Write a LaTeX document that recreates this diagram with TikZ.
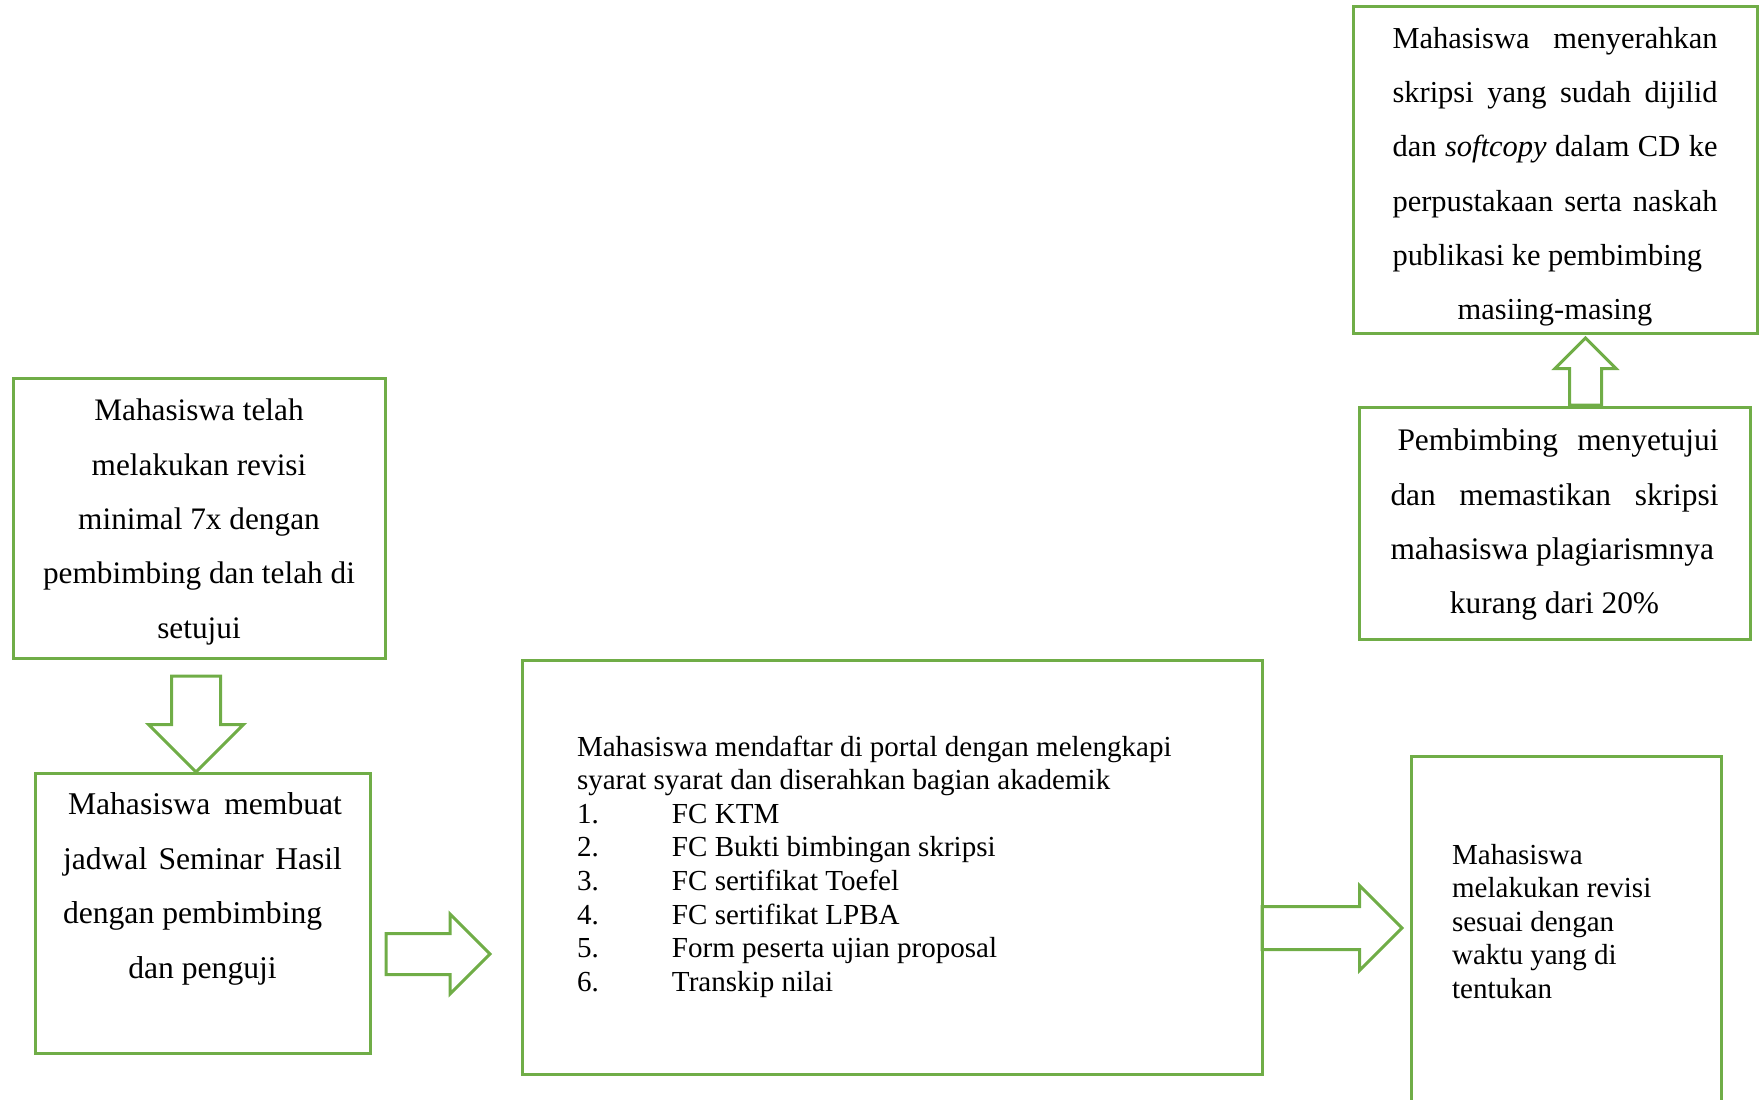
\documentclass[tikz,border=0pt]{standalone}
\usepackage{fontspec}
\setmainfont{Liberation Serif}
\usetikzlibrary{shapes.arrows}
\definecolor{boxgreen}{RGB}{112,173,71}
\newlength{\px}
\setlength{\px}{0.15mm}
% text block inside a box: width, height, top gap, text (all in px)
\newcommand{\boxtext}[4]{\begin{minipage}[c][#2\px][t]{#1\px}\vspace*{#3\px}#4\end{minipage}}

\begin{document}
\begin{tikzpicture}
  [x=0.15mm,y=-0.15mm,
   box/.style={draw=boxgreen,line width=0.45mm,rectangle,inner sep=0pt,outer sep=0pt},
   big/.style={font=\fontsize{#1}{23.2}\selectfont},big/.default=13,
   small/.style={font=\fontsize{12.4}{14.3}\selectfont},
   blockarrow/.style={single arrow,draw=boxgreen,line width=0.45mm,inner xsep=0pt,outer sep=0pt,single arrow head indent=0pt,anchor=tail}]
  \useasboundingbox (0,0) rectangle (1760,1099);
  \clip (0,0) rectangle (1760,1099);
  \node[box,big=13.35,minimum width=372\px] (revisi) at (199,518)
    {\boxtext{340}{280}{21}{\centering Mahasiswa telah\\ melakukan revisi\\ minimal 7x dengan\\ pembimbing dan telah di\\ setujui}};
  \node[box,big=13.5,minimum width=335\px] (jadwal) at (202.5,913)
    {\boxtext{279}{280}{20}{\makebox[279\px][s]{\hspace*{5\px}Mahasiswa membuat}\\ \makebox[279\px][s]{jadwal Seminar Hasil}\\ dengan pembimbing\\ \makebox[279\px][c]{dan penguji}}};
  \node[box,small,minimum width=740\px] (daftar) at (892,867)
    {\boxtext{630}{414}{76}{Mahasiswa mendaftar di portal dengan melengkapi\\ syarat syarat dan diserahkan bagian akademik\\
     \makebox[95\px][l]{1.}FC KTM\\ \makebox[95\px][l]{2.}FC Bukti bimbingan skripsi\\ \makebox[95\px][l]{3.}FC sertifikat Toefel\\
     \makebox[95\px][l]{4.}FC sertifikat LPBA\\ \makebox[95\px][l]{5.}Form peserta ujian proposal\\ \makebox[95\px][l]{6.}Transkip nilai}};
  \node[box,small,minimum width=310\px] (perbaikan) at (1566,938)
    {\boxtext{228}{364}{88}{Mahasiswa\\ melakukan revisi\\ sesuai dengan\\ waktu yang di\\ tentukan}};
  \node[box,big=13.4,minimum width=391\px] (setuju) at (1554.5,523)
    {\boxtext{328}{232}{22}{\makebox[328\px][s]{\hspace*{7\px}Pembimbing menyetujui}\\ \makebox[328\px][s]{dan memastikan skripsi}\\
     mahasiswa plagiarismnya\\ \makebox[328\px][c]{kurang dari 20\%}}};
  \node[box,big,minimum width=404\px] (serah) at (1555,170)
    {\boxtext{325}{326}{20}{\makebox[325\px][s]{Mahasiswa menyerahkan}\\ \makebox[325\px][s]{skripsi yang sudah dijilid}\\
     \makebox[325\px][s]{dan \textit{softcopy} dalam CD ke}\\ \makebox[325\px][s]{perpustakaan serta naskah}\\
     publikasi ke pembimbing\\ \makebox[325\px][c]{masiing-masing}}};
  % block arrows: name/tail x/tail y/angle/length/head width/half shaft/head extend
  \foreach \name/\ax/\ay/\ang/\len/\wid/\sh/\ext in {a1/196/676/-90/96/92/23/23, a2/386/954/0/104/77/19/19.5,
    a3/1262/928/0/140/82/20/21, a4/1585.5/405/90/67/58/14.5/14.5}
    \node[blockarrow,rotate=\ang,minimum height=\len\px,minimum width=\wid\px,inner ysep=\sh\px,single arrow head extend=\ext\px] (\name) at (\ax,\ay) {};
\end{tikzpicture}
\end{document}
